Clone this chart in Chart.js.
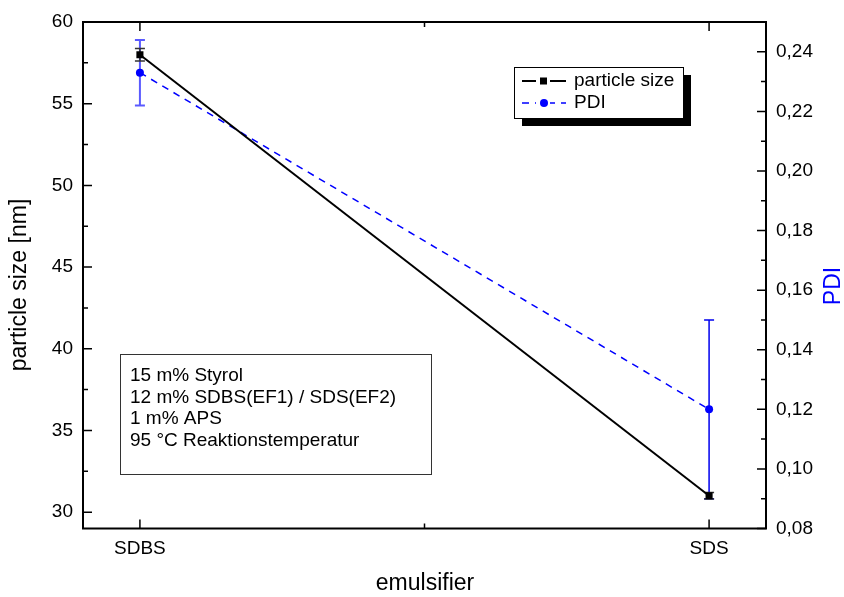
<!DOCTYPE html>
<html><head><meta charset="utf-8">
<script src="https://cdn.jsdelivr.net/npm/chart.js@4/dist/chart.umd.min.js"></script>
<style>html,body{margin:0;padding:0;background:#fff;}#wrap{width:844px;height:597px;}</style>
</head><body><div id="wrap"><canvas id="c" width="844" height="597"></canvas></div>
<script>
const categories = ['SDBS', 'SDS'];
const particleSize = [58.0, 31.0];
const particleSizeErr = [0.38, 0.2];
const pdi = [0.233, 0.120];
const pdiErr = [0.011, 0.030];
const leftTicks = [30, 35, 40, 45, 50, 55, 60];
const leftMinor = [32.5, 37.5, 42.5, 47.5, 52.5, 57.5];
const rightTicks = [0.08, 0.10, 0.12, 0.14, 0.16, 0.18, 0.20, 0.22, 0.24];
const rightMinor = [0.09, 0.11, 0.13, 0.15, 0.17, 0.19, 0.21, 0.23, 0.25];
const xMinor = [1.5];
const annotationLines = ['15 m% Styrol', '12 m% SDBS(EF1) / SDS(EF2)', '1 m% APS', '95 °C Reaktionstemperatur'];
const legendLabels = ['particle size', 'PDI'];

const FONT = '"Liberation Sans", Arial, sans-serif';

const frameTicks = {
  id: 'frameTicks',
  beforeDatasetsDraw(chart) {
    const ctx = chart.ctx;
    const x = chart.scales.x, y = chart.scales.y, y2 = chart.scales.y2;
    // error bars
    const bar = (px, pTop, pBot, color, w) => {
      ctx.save();
      ctx.strokeStyle = color; ctx.lineWidth = w;
      ctx.beginPath();
      ctx.moveTo(px, pTop); ctx.lineTo(px, pBot);
      ctx.moveTo(px - 5, pTop); ctx.lineTo(px + 5, pTop);
      ctx.moveTo(px - 5, pBot); ctx.lineTo(px + 5, pBot);
      ctx.stroke(); ctx.restore();
    };
    categories.forEach((c, i) => {
      const px = x.getPixelForValue(i + 1);
      bar(px, y2.getPixelForValue(pdi[i] + pdiErr[i]), y2.getPixelForValue(pdi[i] - pdiErr[i]), i === 0 ? '#5a5aff' : '#0000ee', i === 0 ? 2 : 1.5);
      bar(px, y.getPixelForValue(particleSize[i] + particleSizeErr[i]), y.getPixelForValue(particleSize[i] - particleSizeErr[i]), '#333', 1.5);
    });
  },
  afterDraw(chart) {
    const ctx = chart.ctx;
    const a = chart.chartArea;
    const x = chart.scales.x, y = chart.scales.y, y2 = chart.scales.y2;
    ctx.save();
    ctx.strokeStyle = '#000';
    ctx.lineWidth = 2;
    ctx.strokeRect(a.left, a.top, a.right - a.left, a.bottom - a.top);
    ctx.lineWidth = 1.5;
    ctx.beginPath();
    const MAJ = 9, MIN = 5;
    leftTicks.forEach(v => { const p = y.getPixelForValue(v); ctx.moveTo(a.left, p); ctx.lineTo(a.left + MAJ, p); });
    leftMinor.forEach(v => { const p = y.getPixelForValue(v); ctx.moveTo(a.left, p); ctx.lineTo(a.left + MIN, p); });
    rightTicks.forEach(v => { const p = y2.getPixelForValue(v); ctx.moveTo(a.right, p); ctx.lineTo(a.right - MAJ, p); });
    rightMinor.forEach(v => { const p = y2.getPixelForValue(v); ctx.moveTo(a.right, p); ctx.lineTo(a.right - MIN, p); });
    categories.forEach((c, i) => {
      const p = x.getPixelForValue(i + 1);
      ctx.moveTo(p, a.bottom); ctx.lineTo(p, a.bottom - MAJ);
      ctx.moveTo(p, a.top); ctx.lineTo(p, a.top + MAJ);
    });
    xMinor.forEach(v => {
      const p = x.getPixelForValue(v);
      ctx.moveTo(p, a.bottom); ctx.lineTo(p, a.bottom - MIN);
      ctx.moveTo(p, a.top); ctx.lineTo(p, a.top + MIN);
    });
    ctx.stroke();

    // axis titles
    ctx.fillStyle = '#000';
    ctx.font = '23px ' + FONT;
    ctx.textAlign = 'center';
    ctx.textBaseline = 'middle';
    ctx.save(); ctx.translate(20, 285); ctx.rotate(-Math.PI / 2); ctx.fillText('particle size [nm]', 0, 0); ctx.restore();
    ctx.save(); ctx.translate(834, 286); ctx.rotate(-Math.PI / 2); ctx.fillStyle = '#0000ff'; ctx.fillText('PDI', 0, 0); ctx.restore();
    ctx.fillText('emulsifier', 425, 584);

    // annotation box
    ctx.lineWidth = 1;
    ctx.strokeStyle = '#333';
    ctx.strokeRect(120.5, 354.5, 311, 120);
    ctx.font = '19px ' + FONT;
    ctx.textAlign = 'left';
    annotationLines.forEach((t, i) => ctx.fillText(t, 130, 376 + i * 21.5));

    // legend with shadow
    const lx = 514, ly = 67, lw = 169, lh = 51;
    ctx.fillStyle = '#000';
    ctx.fillRect(lx + 8, ly + 8, lw, lh);
    ctx.fillStyle = '#fff';
    ctx.fillRect(lx, ly, lw, lh);
    ctx.strokeStyle = '#000'; ctx.lineWidth = 1;
    ctx.strokeRect(lx + 0.5, ly + 0.5, lw, lh);
    const ds = chart.data.datasets;
    const rows = [81, 103];
    rows.forEach((ry, i) => {
      const d = ds[i];
      ctx.save();
      ctx.strokeStyle = d.borderColor; ctx.lineWidth = d.borderWidth;
      ctx.setLineDash(d.borderDash || []);
      ctx.beginPath(); ctx.moveTo(522, ry); ctx.lineTo(566, ry); ctx.stroke();
      ctx.restore();
      ctx.fillStyle = '#fff';
      ctx.fillRect(536, ry - 5, 14, 10);
      ctx.fillStyle = d.backgroundColor;
      if (d.pointStyle === 'rect') { ctx.fillRect(540, ry - 3.5, 7, 7); }
      else { ctx.beginPath(); ctx.arc(544, ry, 4, 0, Math.PI * 2); ctx.fill(); }
      ctx.fillStyle = '#000';
      ctx.font = '19px ' + FONT;
      ctx.textAlign = 'left'; ctx.textBaseline = 'middle';
      ctx.fillText(legendLabels[i], 574, ry);
    });
    ctx.restore();
  }
};

const fmt = v => v.toFixed(2).replace('.', ',');

new Chart(document.getElementById('c'), {
  type: 'line',
  data: {
    datasets: [
      {
        label: legendLabels[0],
        data: particleSize.map((v, i) => ({ x: i + 1, y: v })),
        borderColor: '#000', backgroundColor: '#000', borderWidth: 2,
        pointStyle: 'rect', pointRadius: 5, pointBorderWidth: 0,
        yAxisID: 'y', tension: 0
      },
      {
        label: legendLabels[1],
        data: pdi.map((v, i) => ({ x: i + 1, y: v })),
        borderColor: '#0000ff', backgroundColor: '#0000ff', borderWidth: 1.5,
        borderDash: [7, 6],
        pointStyle: 'circle', pointRadius: 4, pointBorderWidth: 0,
        yAxisID: 'y2', tension: 0
      }
    ]
  },
  options: {
    responsive: false, animation: false, devicePixelRatio: 1,
    layout: { padding: { top: 22, left: 0, right: 0, bottom: 0 } },
    plugins: { legend: { display: false }, tooltip: { enabled: false } },
    scales: {
      x: {
        type: 'linear', position: 'bottom', min: 0.9, max: 2.1,
        afterBuildTicks: s => { s.ticks = categories.map((c, i) => ({ value: i + 1 })); },
        afterFit: s => { s.height = 68.5; },
        ticks: { callback: v => categories[Math.round(v) - 1] || '', font: { size: 19, family: FONT }, color: '#000', padding: 9, maxRotation: 0, autoSkip: false },
        grid: { display: false, drawTicks: false }, border: { display: false }
      },
      y: {
        type: 'linear', position: 'left', min: 29, max: 60,
        afterBuildTicks: s => { s.ticks = leftTicks.map(v => ({ value: v })); },
        afterFit: s => { s.width = 83; },
        ticks: { font: { size: 19, family: FONT }, color: '#000', padding: 10, autoSkip: false },
        grid: { display: false, drawTicks: false }, border: { display: false }
      },
      y2: {
        type: 'linear', position: 'right', min: 0.08, max: 0.25,
        afterBuildTicks: s => { s.ticks = rightTicks.map(v => ({ value: v })); },
        afterFit: s => { s.width = 78; },
        ticks: { callback: v => fmt(v), font: { size: 19, family: FONT }, color: '#000', padding: 10, autoSkip: false },
        grid: { display: false, drawTicks: false }, border: { display: false }
      }
    }
  },
  plugins: [frameTicks]
});
</script>
</body></html>
